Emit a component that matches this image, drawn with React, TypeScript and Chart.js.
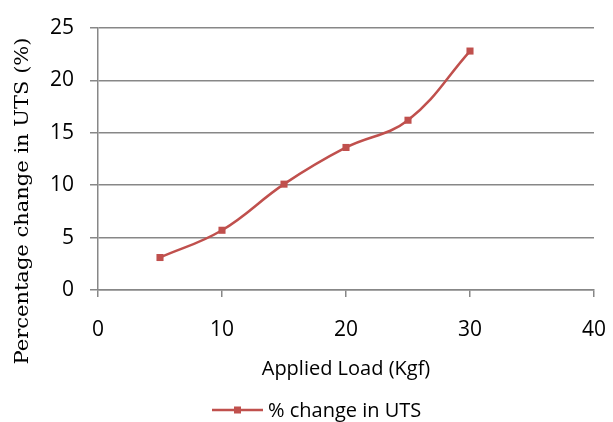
import React, { useEffect, useRef } from "react";
import { Chart, registerables } from "chart.js";

Chart.register(...registerables);

const loads = [5, 10, 15, 20, 25, 30];
const utsChange = [3.1, 5.7, 10.1, 13.6, 16.2, 22.8];
const seriesName = "% change in UTS";
const xTitle = "Applied Load (Kgf)";
const yTitle = "Percentage change in UTS (%)";

const RED = "#C0504D";
const GRID = "#878787";
const SANS = "'Open Sans', Lato, sans-serif";
const SERIF = "'DejaVu Serif', serif";

const decorPlugin = {
  id: "decor",
  afterDraw(chart: any) {
    const ctx = chart.ctx;
    ctx.save();
    ctx.font = `19px ${SERIF}`;
    ctx.fillStyle = "#000";
    ctx.textAlign = "center";
    ctx.textBaseline = "middle";
    const w = ctx.measureText(yTitle).width;
    ctx.translate(23, 201);
    ctx.rotate(-Math.PI / 2);
    ctx.scale(327 / w, 1);
    ctx.fillText(yTitle, 0, 0);
    ctx.restore();

    ctx.save();
    const y = 410;
    const x0 = 212;
    const x1 = 263;
    ctx.strokeStyle = RED;
    ctx.lineWidth = 2.5;
    ctx.beginPath();
    ctx.moveTo(x0, y);
    ctx.lineTo(x1, y);
    ctx.stroke();
    ctx.fillStyle = RED;
    ctx.fillRect((x0 + x1) / 2 - 3.5, y - 3.5, 7, 7);
    ctx.fillStyle = "#000";
    ctx.font = `20px ${SANS}`;
    ctx.textBaseline = "middle";
    ctx.textAlign = "left";
    ctx.fillText(chart.data.datasets[0].label, 268, y + 1);
    ctx.restore();
  },
};

export default function App() {
  const ref = useRef<HTMLCanvasElement | null>(null);
  useEffect(() => {
    if (!ref.current) return;
    const chart = new Chart(ref.current, {
      type: "scatter",
      data: {
        datasets: [
          {
            label: seriesName,
            data: loads.map((x, i) => ({ x, y: utsChange[i] })),
            showLine: true,
            borderColor: RED,
            backgroundColor: RED,
            borderWidth: 2.5,
            tension: 0.4,
            pointStyle: "rect",
            pointRadius: 5,
            pointBorderWidth: 0,
          },
        ],
      },
      options: {
        animation: false,
        responsive: false,
        layout: { padding: { top: 28, right: 19, left: 0, bottom: 41 } },
        plugins: { legend: { display: false }, tooltip: { enabled: false } },
        scales: {
          x: {
            type: "linear",
            min: 0,
            max: 40,
            ticks: { stepSize: 10, color: "#000", font: { family: SANS, size: 21 }, padding: 20 },
            grid: { drawOnChartArea: false, drawTicks: true, tickLength: 7, color: GRID, lineWidth: 1.5 },
            border: { color: GRID, width: 1.5 },
            title: { display: true, text: xTitle, color: "#000", font: { family: SANS, size: 20 }, padding: 0 },
            afterFit(scale: any) {
              scale.height = 91;
              scale.paddingLeft = 0;
              scale.paddingRight = 0;
            },
          },
          y: {
            min: 0,
            max: 25,
            ticks: { stepSize: 5, color: "#000", font: { family: SANS, size: 21 }, padding: 16 },
            grid: { drawOnChartArea: true, drawTicks: true, tickLength: 8, color: GRID, lineWidth: 1.5 },
            border: { color: GRID, width: 1.5 },
            title: { display: false },
            afterFit(scale: any) {
              scale.width = 98;
              scale.paddingTop = 0;
              scale.paddingBottom = 0;
            },
          },
        },
      },
      plugins: [decorPlugin],
    });
    return () => chart.destroy();
  }, []);
  return (
    <div style={{ position: "fixed", left: 0, top: 0, width: 613, height: 422, background: "#fff" }}>
      <canvas ref={ref} width={613} height={422} style={{ display: "block" }} />
    </div>
  );
}
